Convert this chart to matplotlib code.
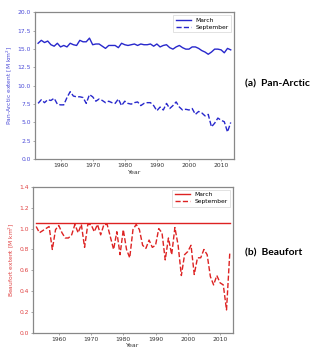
import matplotlib
matplotlib.use("Agg")
import matplotlib.pyplot as plt
import numpy as np

years = list(range(1953, 2014))

pan_march = [15.8, 16.2, 15.9, 16.1, 15.6, 15.4, 15.8, 15.3, 15.5, 15.3,
             15.8, 15.6, 15.5, 16.2, 16.0, 16.0, 16.5, 15.6, 15.7, 15.7,
             15.4, 15.1, 15.5, 15.5, 15.5, 15.2, 15.8, 15.6, 15.5, 15.6,
             15.7, 15.5, 15.7, 15.6, 15.6, 15.7, 15.4, 15.7, 15.3, 15.5,
             15.6, 15.2, 15.0, 15.3, 15.5, 15.2, 15.0, 15.0, 15.3, 15.3,
             15.1, 14.8, 14.6, 14.3, 14.6, 15.0, 15.0, 14.9, 14.5, 15.1, 14.9]

pan_sept = [7.6, 8.1, 7.7, 8.1, 8.0, 8.3, 7.5, 7.4, 7.4, 8.4,
            9.2, 8.6, 8.5, 8.5, 8.4, 7.6, 8.8, 8.5, 7.9, 8.2,
            8.0, 7.7, 7.9, 7.7, 7.6, 8.2, 7.3, 7.9, 7.6, 7.5,
            7.7, 7.8, 7.3, 7.6, 7.7, 7.7, 7.3, 6.6, 7.1, 6.7,
            7.6, 6.9, 7.3, 7.8, 7.1, 6.7, 6.8, 6.7, 6.9, 6.1,
            6.5, 6.3, 5.9, 6.1, 4.4, 4.9, 5.6, 5.3, 5.1, 3.7, 5.0]

bf_march = [1.05] * len(years)

bf_sept = [1.02, 0.96, 0.98, 1.00, 1.02, 0.80, 0.99, 1.03, 0.96, 0.91,
           0.91, 0.94, 1.04, 0.96, 1.04, 0.82, 1.04, 1.04, 0.97, 1.04,
           0.94, 1.04, 1.04, 0.92, 0.80, 0.97, 0.75, 0.99, 0.80, 0.72,
           0.99, 1.04, 0.99, 0.84, 0.81, 0.89, 0.82, 0.84, 1.00, 0.96,
           0.70, 0.91, 0.75, 1.01, 0.84, 0.55, 0.75, 0.78, 0.84, 0.56,
           0.72, 0.72, 0.80, 0.75, 0.54, 0.46, 0.55, 0.48, 0.46, 0.22, 0.76]

blue = "#2828cc"
blue_t = "#4a4ad8"
red = "#dd2222"
red_t = "#e04040"
spine_c = "#888888"

fig = plt.figure(figsize=(3.2, 3.56), dpi=100)

def style(ax, tcol):
    for s in ax.spines.values():
        s.set_color(spine_c)
        s.set_linewidth(0.9)
    ax.tick_params(labelsize=4.3, length=1.5, width=0.5, colors=spine_c, pad=1.5)
    for lab in ax.get_yticklabels():
        lab.set_color(tcol)
    for lab in ax.get_xticklabels():
        lab.set_color("#333333")

ax1 = fig.add_axes([0.109, 0.553, 0.622, 0.412])
ax1.plot(years, pan_march, color=blue, lw=1.0, label="March")
ax1.plot(years, pan_sept, color=blue, lw=1.0, ls="--", label="September")
ax1.set_xlim(1952, 2014)
ax1.set_ylim(0, 20)
ax1.set_yticks(np.arange(0, 20.1, 2.5))
ax1.set_xticks([1960, 1970, 1980, 1990, 2000, 2010])
ax1.set_ylabel("Pan-Arctic extent [M km$^2$]", fontsize=4.3, color=blue_t, labelpad=2)
ax1.set_xlabel("Year", fontsize=4.5, color="#333333", labelpad=1)
style(ax1, blue_t)
leg = ax1.legend(loc="upper right", fontsize=4.3, handlelength=2.5, borderpad=0.4,
                 labelspacing=0.3, fancybox=False)
leg.get_frame().set_linewidth(0.5)

ax2 = fig.add_axes([0.103, 0.065, 0.625, 0.41])
ax2.plot(years, bf_march, color=red, lw=1.0, label="March")
ax2.plot(years, bf_sept, color=red, lw=1.0, ls="--", label="September")
ax2.set_xlim(1952, 2014)
ax2.set_ylim(0, 1.4)
ax2.set_yticks(np.arange(0, 1.41, 0.2))
ax2.set_xticks([1960, 1970, 1980, 1990, 2000, 2010])
ax2.set_ylabel("Beaufort extent [M km$^2$]", fontsize=4.3, color=red_t, labelpad=2)
ax2.set_xlabel("Year", fontsize=4.5, color="#333333", labelpad=1)
style(ax2, red_t)
leg2 = ax2.legend(loc="upper right", fontsize=4.3, handlelength=2.5, borderpad=0.4,
                  labelspacing=0.3, fancybox=False)
leg2.get_frame().set_linewidth(0.5)

fig.text(0.766, 0.764, "(a)  Pan-Arctic", fontsize=7.4, fontweight="bold",
         family="Lato", va="center", ha="left")
fig.text(0.766, 0.289, "(b)  Beaufort", fontsize=7.4, fontweight="bold",
         family="Lato", va="center", ha="left")

fig.savefig("out.png", dpi=100)
